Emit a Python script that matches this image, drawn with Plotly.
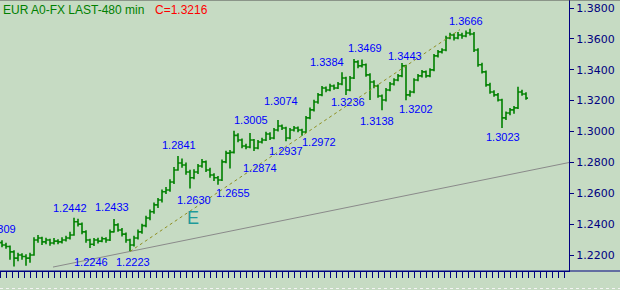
import plotly.graph_objects as go

# ---------------- data ----------------
opens = [1.2280,1.2265,1.2255,1.2220,1.2180,1.2200,1.2190,1.2180,1.2200,1.2297,
         1.2310,1.2285,1.2297,1.2278,1.2290,1.2285,1.2297,1.2310,1.2330,1.2415,
         1.2400,1.2350,1.2297,1.2270,1.2297,1.2290,1.2305,1.2297,1.2350,1.2395,
         1.2362,1.2335,1.2297,1.2265,1.2310,1.2350,1.2390,1.2440,1.2480,1.2525,
         1.2556,1.2610,1.2621,1.2673,1.2751,1.2796,1.2783,1.2738,1.2700,1.2738,
         1.2777,1.2803,1.2751,1.2718,1.2700,1.2686,1.2803,1.2860,1.2865,1.2975,
         1.2945,1.2906,1.2900,1.2945,1.2893,1.2932,1.2945,1.2984,1.2958,1.3010,
         1.3036,1.3023,1.2958,1.3010,1.3023,1.3010,1.2997,1.3088,1.3140,1.3191,
         1.3237,1.3282,1.3269,1.3295,1.3282,1.3308,1.3347,1.3269,1.3347,1.3451,
         1.3425,1.3432,1.3367,1.3321,1.3295,1.3230,1.3204,1.3269,1.3308,1.3334,
         1.3360,1.3425,1.3237,1.3256,1.3334,1.3360,1.3386,1.3360,1.3399,1.3490,
         1.3516,1.3528,1.3606,1.3625,1.3606,1.3625,1.3619,1.3638,1.3632,1.3528,
         1.3432,1.3386,1.3302,1.3256,1.3237,1.3204,1.3088,1.3120,1.3140,1.3153,
         1.3256,1.3243]
highs = [1.2295,1.2280,1.2262,1.2230,1.2215,1.2212,1.2205,1.2215,1.2315,1.2330,
         1.2318,1.2312,1.2305,1.2310,1.2302,1.2315,1.2325,1.2350,1.2442,1.2435,
         1.2410,1.2360,1.2305,1.2310,1.2312,1.2318,1.2315,1.2365,1.2433,1.2405,
         1.2375,1.2345,1.2305,1.2325,1.2365,1.2402,1.2455,1.2495,1.2540,1.2570,
         1.2625,1.2640,1.2690,1.2770,1.2841,1.2825,1.2800,1.2752,1.2755,1.2790,
         1.2822,1.2812,1.2765,1.2730,1.2712,1.2818,1.2875,1.2880,1.3005,1.2988,
         1.2955,1.2920,1.2990,1.2952,1.2945,1.2960,1.2998,1.2995,1.3022,1.3074,
         1.3045,1.3030,1.3022,1.3035,1.3032,1.3018,1.3100,1.3155,1.3205,1.3250,
         1.3295,1.3292,1.3310,1.3305,1.3320,1.3384,1.3355,1.3360,1.3469,1.3462,
         1.3466,1.3440,1.3378,1.3332,1.3305,1.3240,1.3282,1.3320,1.3345,1.3372,
         1.3443,1.3432,1.3268,1.3345,1.3372,1.3398,1.3395,1.3410,1.3502,1.3528,
         1.3540,1.3620,1.3640,1.3635,1.3645,1.3640,1.3655,1.3666,1.3645,1.3540,
         1.3445,1.3395,1.3315,1.3268,1.3250,1.3212,1.3130,1.3152,1.3165,1.3290,
         1.3270,1.3255]
lows = [1.2250,1.2240,1.2170,1.2125,1.2160,1.2170,1.2130,1.2150,1.2195,1.2280,
        1.2265,1.2270,1.2260,1.2268,1.2270,1.2275,1.2288,1.2300,1.2325,1.2385,
        1.2335,1.2280,1.2246,1.2258,1.2275,1.2282,1.2280,1.2290,1.2345,1.2350,
        1.2320,1.2280,1.2223,1.2255,1.2300,1.2338,1.2380,1.2425,1.2468,1.2505,
        1.2540,1.2595,1.2610,1.2660,1.2745,1.2765,1.2720,1.2630,1.2690,1.2725,
        1.2765,1.2738,1.2700,1.2680,1.2655,1.2680,1.2795,1.2760,1.2858,1.2930,
        1.2892,1.2885,1.2892,1.2874,1.2885,1.2922,1.2938,1.2945,1.2950,1.3000,
        1.3010,1.2937,1.2950,1.3000,1.2995,1.2972,1.2990,1.3080,1.3130,1.3180,
        1.3228,1.3255,1.3260,1.3270,1.3275,1.3300,1.3236,1.3260,1.3340,1.3410,
        1.3415,1.3355,1.3204,1.3280,1.3218,1.3138,1.3195,1.3260,1.3298,1.3325,
        1.3352,1.3202,1.3225,1.3248,1.3325,1.3350,1.3348,1.3352,1.3390,1.3480,
        1.3505,1.3520,1.3598,1.3590,1.3598,1.3600,1.3610,1.3622,1.3515,1.3420,
        1.3375,1.3290,1.3245,1.3225,1.3195,1.3023,1.3075,1.3105,1.3115,1.3145,
        1.3232,1.3205]
closes = [1.2265,1.2255,1.2220,1.2180,1.2200,1.2190,1.2180,1.2200,1.2297,1.2310,
          1.2285,1.2297,1.2278,1.2290,1.2285,1.2297,1.2310,1.2330,1.2415,1.2400,
          1.2350,1.2297,1.2270,1.2297,1.2290,1.2305,1.2297,1.2350,1.2395,1.2362,
          1.2335,1.2297,1.2265,1.2310,1.2350,1.2390,1.2440,1.2480,1.2525,1.2556,
          1.2610,1.2621,1.2673,1.2751,1.2796,1.2783,1.2738,1.2700,1.2738,1.2777,
          1.2803,1.2751,1.2718,1.2700,1.2686,1.2803,1.2860,1.2865,1.2975,1.2945,
          1.2906,1.2900,1.2945,1.2893,1.2932,1.2945,1.2984,1.2958,1.3010,1.3036,
          1.3023,1.2958,1.3010,1.3023,1.3010,1.2997,1.3088,1.3140,1.3191,1.3237,
          1.3282,1.3269,1.3295,1.3282,1.3308,1.3347,1.3269,1.3347,1.3451,1.3425,
          1.3432,1.3367,1.3321,1.3295,1.3230,1.3204,1.3269,1.3308,1.3334,1.3360,
          1.3425,1.3237,1.3256,1.3334,1.3360,1.3386,1.3360,1.3399,1.3490,1.3516,
          1.3528,1.3606,1.3625,1.3606,1.3625,1.3619,1.3638,1.3632,1.3528,1.3432,
          1.3386,1.3302,1.3256,1.3237,1.3204,1.3088,1.3120,1.3140,1.3153,1.3256,
          1.3243,1.3216]
bar_index = list(range(len(closes)))

# swing labels (bar index, price)
label_idx = [18, 28, 22, 32, 44, 47, 54, 58, 63, 69, 71, 75, 85, 86, 88, 95, 100, 101, 117, 125]
label_val = [1.2442, 1.2433, 1.2246, 1.2223, 1.2841, 1.2630, 1.2655, 1.3005, 1.2874, 1.3074,
             1.2937, 1.2972, 1.3384, 1.3236, 1.3469, 1.3138, 1.3443, 1.3202, 1.3666, 1.3023]
edge_label_val = 1.2309

# y-axis ticks
y_ticks = [1.22, 1.24, 1.26, 1.28, 1.30, 1.32, 1.34, 1.36, 1.38]

# trend-line anchors: channel base (two lows) and long support line
trend_low_idx = [32, 75]
trend_end_idx = 114.5
support_x = [12.75, 141.75]
support_y = [1.2122, 1.2799]

title_text = "EUR A0-FX LAST-480 min"
wave_label = "E"
wave_x, wave_y = 47.75, 1.2440

# ---------------- styles ----------------
BG = "#c6dbc3"
NAVY = "#000080"
BAR = "#008000"
label_dx = [-4, -2, 1, 3, 1, 4, 15, 17, 6, 3, 0, 17, -15, 2, 11, -5, 3, 10, -4, 1]
label_dy = [10, 12, -14, -11, 11, -11, -8, 11, -17, 19, -10, -6, 10, -7, 11, -11, 7, -9, 8, -9]

fig = go.Figure()

fig.add_trace(go.Scatter(x=support_x, y=support_y, mode="lines",
                         line=dict(color="#8a8a8a", width=1), hoverinfo="skip",
                         showlegend=False))

i0, i1 = trend_low_idx
slope = (lows[i1] - lows[i0]) / (i1 - i0)
tx = [i0, trend_end_idx]
ty = [lows[i0], lows[i0] + slope * (trend_end_idx - i0)]
fig.add_trace(go.Scatter(x=tx, y=ty, mode="lines",
                         line=dict(color="#8f8f22", width=1, dash="3px,3px"),
                         hoverinfo="skip", showlegend=False))

fig.add_trace(go.Ohlc(x=bar_index, open=opens, high=highs, low=lows, close=closes,
                      increasing=dict(line=dict(color=BAR, width=1.6)),
                      decreasing=dict(line=dict(color=BAR, width=1.6)),
                      tickwidth=0.48, showlegend=False, hoverinfo="skip"))

ann = []
for i, v, dx, dy in zip(label_idx, label_val, label_dx, label_dy):
    ann.append(dict(x=i, y=v, xref="x", yref="y", text=f"{v:.4f}", showarrow=False,
                    xshift=dx, yshift=dy,
                    font=dict(family="Liberation Sans, Arial", size=11, color="#0000ff")))
ann.append(dict(x=0, y=1 - 237 / 271, xref="paper", yref="paper", text=f"{edge_label_val:.4f}",
                showarrow=False, xanchor="right", xshift=18,
                font=dict(family="Liberation Sans, Arial", size=11, color="#0000ff")))
ann.append(dict(x=wave_x, y=wave_y, xref="x", yref="y", text=wave_label, showarrow=False,
                font=dict(family="Liberation Sans Narrow, Liberation Sans, Arial", size=18,
                          color="#1e9a9a")))
ann.append(dict(x=0, y=1, xref="paper", yref="paper", text=title_text, showarrow=False,
                xanchor="left", yanchor="top", xshift=1, yshift=-1,
                font=dict(family="Liberation Sans, Arial", size=12, color="#008000")))
ann.append(dict(x=0, y=1, xref="paper", yref="paper", text=f"C={closes[-1]:.4f}",
                showarrow=False, xanchor="left", yanchor="top", xshift=153, yshift=-1,
                font=dict(family="Liberation Sans, Arial", size=12, color="#ff0000")))

W_PLOT = 569
shapes = [
    dict(type="line", xref="paper", yref="paper", x0=0, x1=620 / W_PLOT, y0=0, y1=0,
         line=dict(color=NAVY, width=1)),
    dict(type="line", xref="paper", yref="paper", x0=0, x1=620 / W_PLOT, y0=1, y1=1,
         line=dict(color="#505050", width=1)),
    dict(type="line", xref="paper", yref="paper", x0=0, x1=620 / W_PLOT,
         y0=-17.5 / 271, y1=-17.5 / 271,
         line=dict(color="#f4f4f4", width=1, dash="dot")),
]

fig.update_layout(
    width=620, height=290,
    margin=dict(l=0, r=51, t=0, b=19),
    paper_bgcolor=BG, plot_bgcolor=BG,
    showlegend=False,
    annotations=ann, shapes=shapes,
    xaxis=dict(range=[-0.5, 141.75], rangeslider=dict(visible=False),
               showgrid=False, zeroline=False, showline=True, linecolor=NAVY,
               ticks="outside", ticklen=6, tickcolor=NAVY, tickwidth=1,
               tick0=1, dtick=1.5, showticklabels=False, fixedrange=True),
    yaxis=dict(range=[1.20964, 1.38518], side="right", showgrid=False, zeroline=False,
               showline=True, linecolor=NAVY, ticks="outside", ticklen=4,
               tickcolor=NAVY, tickvals=y_ticks, tickformat=".4f",
               tickfont=dict(family="DejaVu Sans", size=11, color=NAVY), fixedrange=True),
)

fig.write_html("out.html")
